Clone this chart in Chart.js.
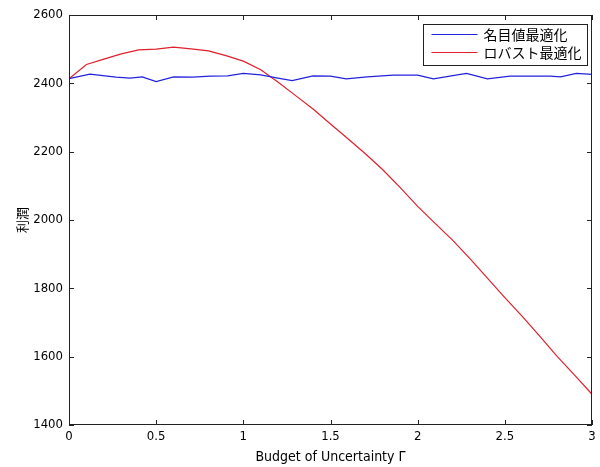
<!DOCTYPE html>
<html>
<head>
<meta charset="utf-8">
<script src="https://cdn.jsdelivr.net/npm/chart.js@4"></script>
<style>
  html, body { margin: 0; padding: 0; background: #fff; }
  canvas { display: block; }
</style>
</head>
<body>
<canvas id="profitChart" width="600" height="467"></canvas>
<script>
// nominal optimisation (blue)
const nominalX = [0, 0.12, 0.27, 0.35, 0.42, 0.5, 0.6, 0.71, 0.81, 0.91, 1.0, 1.1, 1.19, 1.28, 1.4, 1.5,
    1.59, 1.71, 1.86, 2.0, 2.09, 2.28, 2.4, 2.53, 2.76, 2.82, 2.91, 3.0];
const nominalY = [2414, 2427, 2418, 2415, 2419, 2405, 2419, 2418, 2421, 2422, 2429, 2425, 2416, 2408, 2422, 2421,
    2413, 2419, 2424, 2424, 2413, 2429, 2413, 2421, 2421, 2419, 2429, 2426];

// robust optimisation (red)
const robustX = [0, 0.1, 0.2, 0.3, 0.4, 0.5, 0.6, 0.7, 0.8, 0.9, 1.0, 1.1, 1.2, 1.3, 1.4, 1.5,
    1.6, 1.7, 1.8, 1.9, 2.0, 2.1, 2.2, 2.3, 2.4, 2.5, 2.6, 2.7, 2.8, 2.9, 3.0];
const robustY = [2413, 2455, 2471, 2486, 2498, 2500, 2506, 2501, 2495, 2481, 2465, 2440, 2403, 2364, 2325, 2281,
    2238, 2194, 2147, 2095, 2040, 1990, 1941, 1887, 1830, 1773, 1718, 1660, 1601, 1546, 1490];

const xTicks = [0, 0.5, 1, 1.5, 2, 2.5, 3];
const yTicks = [1400, 1600, 1800, 2000, 2200, 2400, 2600];

const seriesNames = ["名目値最適化", "ロバスト最適化"];
const xTitle = "Budget of Uncertainty Γ";
const yTitle = "利潤";

const narrowFamily = "'Liberation Sans Narrow', 'DejaVu Sans Condensed', 'Liberation Sans', sans-serif";
const tickFont = { family: narrowFamily, size: 13 };
const titleFont = { family: narrowFamily, size: 14 };
const jpFont = "'Noto Sans CJK JP', sans-serif";

function toPoints(xs, ys) {
    return xs.map((x, i) => ({ x: x, y: ys[i] }));
}

// MATLAB style box with inward ticks, plus legend inside the axes
const matlabAxes = {
    id: "matlabAxes",
    afterDatasetsDraw(chart) {
        const { ctx, chartArea: a, scales } = chart;
        const len = 5;
        ctx.save();
        ctx.strokeStyle = "#222";
        ctx.lineWidth = 1;
        ctx.strokeRect(Math.round(a.left) + 0.5, Math.round(a.top) + 0.5,
            Math.round(a.right - a.left) - 1, Math.round(a.bottom - a.top) - 1);
        ctx.beginPath();
        xTicks.forEach(v => {
            const px = Math.round(scales.x.getPixelForValue(v)) + 0.5;
            ctx.moveTo(px, a.bottom); ctx.lineTo(px, a.bottom - len);
            ctx.moveTo(px, a.top); ctx.lineTo(px, a.top + len);
        });
        yTicks.forEach(v => {
            const py = Math.round(scales.y.getPixelForValue(v)) + 0.5;
            ctx.moveTo(a.left, py); ctx.lineTo(a.left + len, py);
            ctx.moveTo(a.right, py); ctx.lineTo(a.right - len, py);
        });
        ctx.stroke();

        // legend
        ctx.font = "14px " + jpFont;
        const textW = Math.max(...seriesNames.map(s => ctx.measureText(s).width));
        const lineW = 46, gap = 6, padL = 8, padR = 6;
        const boxW = padL + lineW + gap + textW + padR;
        const boxH = 41;
        const bx = Math.round(a.right - 5 - boxW) + 0.5;
        const by = Math.round(a.top + 9) + 0.5;
        ctx.fillStyle = "#fff";
        ctx.fillRect(bx, by, boxW, boxH);
        ctx.strokeStyle = "#222";
        ctx.strokeRect(bx, by, boxW, boxH);
        chart.data.datasets.forEach((ds, i) => {
            const ry = by + 10 + i * 18;
            ctx.strokeStyle = ds.borderColor;
            ctx.beginPath();
            ctx.moveTo(bx + padL, ry);
            ctx.lineTo(bx + padL + lineW, ry);
            ctx.stroke();
            ctx.fillStyle = "#000";
            ctx.textBaseline = "middle";
            ctx.fillText(ds.label, bx + padL + lineW + gap, ry);
        });
        ctx.restore();
    }
};

const ctx = document.getElementById("profitChart").getContext("2d");
new Chart(ctx, {
    type: "line",
    data: {
        datasets: [
            {
                label: seriesNames[0],
                data: toPoints(nominalX, nominalY),
                borderColor: "#2222dd",
                borderWidth: 1.2,
                pointRadius: 0,
                tension: 0
            },
            {
                label: seriesNames[1],
                data: toPoints(robustX, robustY),
                borderColor: "#e0202c",
                borderWidth: 1.2,
                pointRadius: 0,
                tension: 0
            }
        ]
    },
    options: {
        responsive: false,
        animation: false,
        events: [],
        layout: { padding: { top: 15, right: 8, left: 0, bottom: 0 } },
        plugins: {
            legend: { display: false },
            tooltip: { enabled: false }
        },
        scales: {
            x: {
                type: "linear",
                min: 0,
                max: 3,
                afterFit: s => { s.height = 42; },
                afterBuildTicks: s => { s.ticks = xTicks.map(v => ({ value: v })); },
                grid: { display: false, drawTicks: false },
                border: { display: false },
                ticks: {
                    color: "#000",
                    font: tickFont,
                    padding: 4,
                    maxRotation: 0,
                    callback: v => String(v)
                },
                title: {
                    display: true,
                    text: xTitle,
                    color: "#000",
                    font: titleFont,
                    padding: { top: 0, bottom: 1 }
                }
            },
            y: {
                min: 1400,
                max: 2600,
                afterFit: s => { s.width = 69; },
                afterBuildTicks: s => { s.ticks = yTicks.map(v => ({ value: v })); },
                grid: { display: false, drawTicks: false },
                border: { display: false },
                ticks: {
                    color: "#000",
                    font: tickFont,
                    padding: 6,
                    callback: v => String(v)
                },
                title: {
                    display: true,
                    text: yTitle,
                    color: "#000",
                    font: { family: jpFont, size: 13 },
                    padding: { top: 14, bottom: 0 }
                }
            }
        }
    },
    plugins: [matlabAxes]
});
</script>
</body>
</html>
